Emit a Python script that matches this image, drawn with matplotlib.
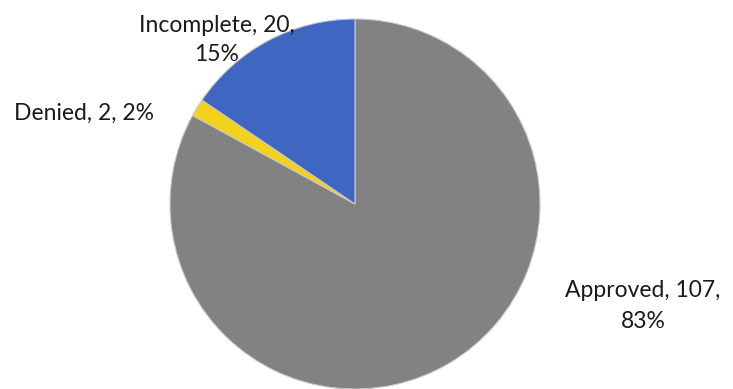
import matplotlib
matplotlib.use("Agg")
import matplotlib.pyplot as plt

categories = ["Approved", "Denied", "Incomplete"]
values = [107, 2, 20]
percents = [83, 2, 15]
colors = ["#828282", "#f2d21a", "#3f67c2"]

W, H = 733, 389
fig = plt.figure(figsize=(W / 100, H / 100), dpi=100)
cx, cy, r = 355, 204, 185
ax = fig.add_axes([(cx - r) / W, (H - cy - r) / H, 2 * r / W, 2 * r / H])
ax.pie(values, colors=colors, startangle=90, counterclock=False,
       wedgeprops=dict(edgecolor="#c8c8c8", linewidth=0.8))
ax.set_xlim(-1, 1)
ax.set_ylim(-1, 1)
ax.set_aspect("auto")
ax.axis("off")

font = dict(family="Lato", fontsize=16.5, color="#1a1a1a")

# Approved
fig.text(643 / W, 1 - 306 / H, f"{categories[0]}, {values[0]},\n{percents[0]}%",
         ha="center", va="center", linespacing=1.55, **font)
# Denied
fig.text(84 / W, 1 - 113 / H, f"{categories[1]}, {values[1]}, {percents[1]}%",
         ha="center", va="center", **font)
# Incomplete
fig.text(217 / W, 1 - 40 / H, f"{categories[2]}, {values[2]},\n{percents[2]}%",
         ha="center", va="center", linespacing=1.5, **font)

fig.savefig("out.png", dpi=100)
